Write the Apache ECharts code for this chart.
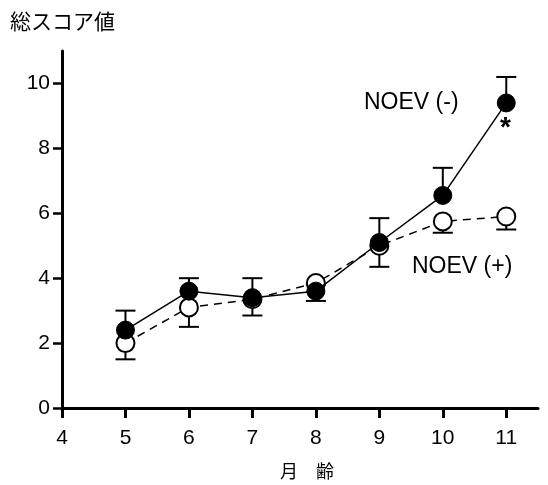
<!DOCTYPE html>
<html>
<head>
<meta charset="utf-8">
<script src="https://cdn.jsdelivr.net/npm/echarts@6/dist/echarts.min.js"></script>
<style>
  html, body { margin: 0; padding: 0; background: #fff; }
  #chart { width: 548px; height: 485px; }
</style>
</head>
<body>
<div id="chart"></div>
<script>
// 月齢
const months = [5, 6, 7, 8, 9, 10, 11];
// NOEV (-) : 黒丸
const noevMinus = [2.4, 3.6, 3.4, 3.6, 5.1, 6.55, 9.4];
const noevMinusErrUp = [0.6, 0.4, 0.6, 0.2, 0.75, 0.85, 0.8];
// NOEV (+) : 白丸
const noevPlus = [2.0, 3.1, 3.35, 3.85, 5.0, 5.75, 5.9];
const noevPlusErrDown = [0.5, 0.6, 0.5, 0.55, 0.65, 0.35, 0.4];
// 目盛り
const xTicks = [4, 5, 6, 7, 8, 9, 10, 11];
const yTicks = [0, 2, 4, 6, 8, 10];

const minusData = months.map((m, i) => [m, noevMinus[i]]);
const plusData = months.map((m, i) => [m, noevPlus[i]]);
const minusErr = months.map((m, i) => [m, noevMinus[i], noevMinus[i] + noevMinusErrUp[i]]);
const plusErr = months.map((m, i) => [m, noevPlus[i] - noevPlusErrDown[i], noevPlus[i]]);

function errorBar(capAtTop) {
  return function (params, api) {
    const x = api.value(0);
    const lo = api.coord([x, api.value(1)]);
    const hi = api.coord([x, api.value(2)]);
    const capY = capAtTop ? hi[1] : lo[1];
    const style = { stroke: '#000', lineWidth: 2 };
    return {
      type: 'group',
      children: [
        { type: 'line', shape: { x1: lo[0], y1: lo[1], x2: hi[0], y2: hi[1] }, style: style },
        { type: 'line', shape: { x1: lo[0] - 10, y1: capY, x2: lo[0] + 10, y2: capY }, style: style }
      ]
    };
  };
}

const myChart = echarts.init(document.getElementById('chart'));
const option = {
  animation: false,
  grid: { left: 62, right: 10, top: 51, bottom: 77 },
  xAxis: {
    type: 'value',
    min: 4,
    max: 11.5,
    axisLine: { show: true, lineStyle: { color: '#000', width: 3 } },
    axisTick: { show: true, length: 10, customValues: xTicks, lineStyle: { color: '#000', width: 3 } },
    axisLabel: {
      customValues: xTicks,
      color: '#000',
      fontSize: 21,
      fontFamily: 'Liberation Sans',
      margin: 20
    },
    splitLine: { show: false }
  },
  yAxis: {
    type: 'value',
    min: 0,
    max: 11,
    axisLine: { show: true, lineStyle: { color: '#000', width: 3 } },
    axisTick: { show: true, length: 9, customValues: yTicks, lineStyle: { color: '#000', width: 2.5 } },
    axisLabel: {
      customValues: yTicks,
      color: '#000',
      fontSize: 21,
      fontFamily: 'Liberation Sans',
      margin: 12
    },
    splitLine: { show: false }
  },
  graphic: [
    { type: 'text', left: 10, top: 11, style: { text: '総スコア値', fontSize: 21, fontFamily: 'Noto Sans CJK JP', fill: '#000' } },
    { type: 'text', left: 280, top: 462, style: { text: '月　齢', fontSize: 18, fontFamily: 'Noto Sans CJK JP', fill: '#000' } },
    { type: 'text', left: 364, top: 91, style: { text: 'NOEV (-)', fontSize: 23, fontFamily: 'Liberation Sans', fill: '#000' } },
    { type: 'text', left: 412, top: 255, style: { text: 'NOEV (+)', fontSize: 23, fontFamily: 'Liberation Sans', fill: '#000' } },
    { type: 'text', left: 500, top: 114, style: { text: '*', fontSize: 28, fontWeight: 'bold', fontFamily: 'Liberation Sans', fill: '#000' } }
  ],
  series: [
    {
      type: 'custom',
      renderItem: errorBar(false),
      data: plusErr,
      z: 1,
      encode: { x: 0, y: [1, 2] }
    },
    {
      type: 'custom',
      renderItem: errorBar(true),
      data: minusErr,
      z: 1,
      encode: { x: 0, y: [1, 2] }
    },
    {
      name: 'NOEV (+)',
      type: 'line',
      data: plusData,
      z: 2,
      symbol: 'circle',
      symbolSize: 18,
      lineStyle: { color: '#000', width: 1.5, type: [8, 6] },
      itemStyle: { color: '#fff', borderColor: '#000', borderWidth: 2 }
    },
    {
      name: 'NOEV (-)',
      type: 'line',
      data: minusData,
      z: 3,
      symbol: 'circle',
      symbolSize: 18,
      lineStyle: { color: '#000', width: 1.5 },
      itemStyle: { color: '#000', borderColor: '#000', borderWidth: 1 }
    }
  ]
};
myChart.setOption(option);
</script>
</body>
</html>
